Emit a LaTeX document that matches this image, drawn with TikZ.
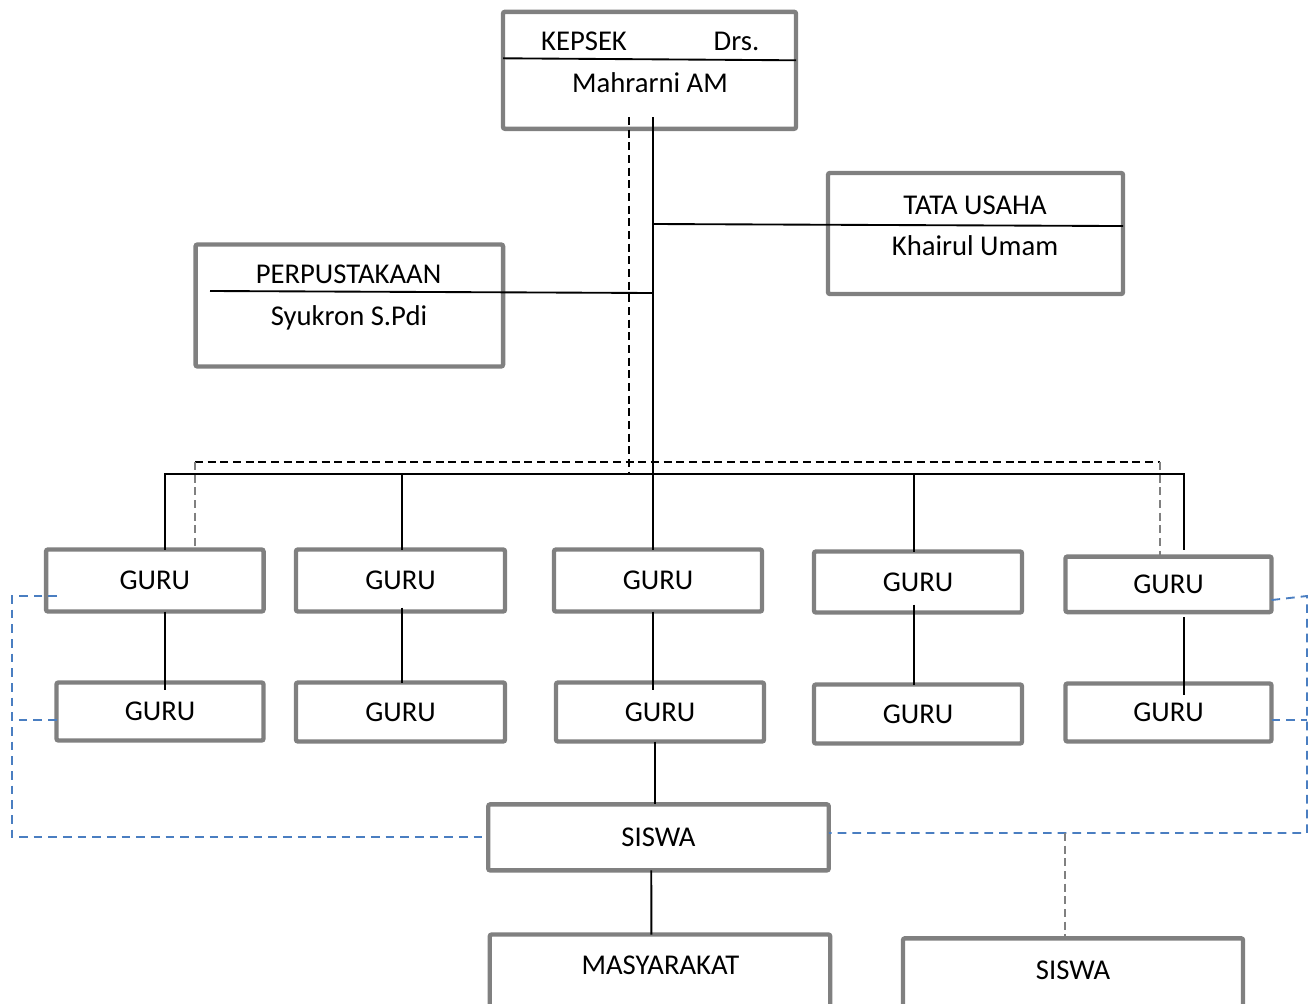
\documentclass[tikz,border=0pt]{standalone}
\usepackage{fontspec}
\setmainfont{Carlito}
\usetikzlibrary{positioning}

\definecolor{boxgrey}{RGB}{128,128,128}
\definecolor{linkblue}{RGB}{74,126,193}

\begin{document}
\begin{tikzpicture}[
            x=0.75pt, y=-0.75pt,
            boxsize/.style 2 args={minimum width=#1*0.75pt, minimum height=#2*0.75pt},
            orgbox/.style={rectangle, draw=boxgrey, line width=3.3pt, rounded corners=1.5pt, fill=white, inner sep=0pt, outer sep=0pt, font=\fontsize{21.5}{26}\selectfont, text height=13.85pt, text depth=0pt},
            orglabel/.style={inner sep=0pt, font=\fontsize{21.5}{26}\selectfont, text height=13.85pt, text depth=0pt},
            link/.style={draw=black, line width=1.4pt},
            dashlink/.style={draw=black, line width=1.4pt, dash pattern=on 6pt off 3.5pt},
            greylink/.style={draw=boxgrey, line width=1.4pt, dash pattern=on 6pt off 3.5pt},
            bluelink/.style={draw=linkblue, line width=1.4pt, dash pattern=on 6.5pt off 4.5pt},
            ]
            \useasboundingbox (0,0) rectangle (1313,1003);
            \clip (0,0) rectangle (1313,1003);

            % Nodes
            \node[orgbox, boxsize={293}{117}] (kepsek) at (649.5,70.3) {};
            \node[orgbox, boxsize={295}{121}] (tatausaha) at (975.5,233.5) {};
            \node[orgbox, boxsize={307.5}{122}] (perpus) at (349.3,305.5) {};

            \node[orgbox, boxsize={217.5}{62}] (guru1) at (154.8,580.5) {GURU};
            \node[orgbox, boxsize={209}{62}] (guru2) at (400.5,580.5) {GURU};
            \node[orgbox, boxsize={208}{62}] (guru3) at (658,580.5) {GURU};
            \node[orgbox, boxsize={208}{61}] (guru4) at (918,582) {GURU};
            \node[orgbox, boxsize={206}{55.5}] (guru5) at (1168.5,584.3) {GURU};

            \node[orgbox, boxsize={207}{58}] (guru1b) at (160,711.5) {GURU};
            \node[orgbox, boxsize={209}{59}] (guru2b) at (400.5,712) {GURU};
            \node[orgbox, boxsize={208}{59}] (guru3b) at (660,712) {GURU};
            \node[orgbox, boxsize={208}{59}] (guru4b) at (918,714) {GURU};
            \node[orgbox, boxsize={206}{58}] (guru5b) at (1168.5,712.5) {GURU};

            \node[orgbox, boxsize={340.5}{66}] (siswa) at (658.5,837.4) {SISWA};
            \node[orgbox, boxsize={340.5}{90}] (masyarakat) at (660,979.5) {};
            \node[orgbox, boxsize={340}{90}] (siswa2) at (1073,983.3) {};

            % Texts
            \node[orglabel] (kepsekT) at (584,41.7) {KEPSEK};
            \node[orglabel] (drsT) at (736.5,41.7) {Drs.};
            \node[orglabel] (kepsekN) at (650,83) {Mahrarni AM};
            \node[orglabel] (tuT) at (975,205) {TATA USAHA};
            \node[orglabel] (tuN) at (975,246) {Khairul Umam};
            \node[orglabel] (perpusT) at (348.5,274.7) {PERPUSTAKAAN};
            \node[orglabel] (perpusN) at (349,316.3) {Syukron S.Pdi};
            \node[orglabel] (masyT) at (660.5,965) {MASYARAKAT};
            \node[orglabel] (siswa2T) at (1073,970) {SISWA};

            % Joints
            \coordinate (trunk) at (653,117);
            \coordinate (dtrunk) at (629,117);
            \coordinate (tuJoin) at (653,224);
            \coordinate (ppStart) at (210,291);
            \coordinate (ppJoin) at (653,293);
            \coordinate (busL) at (165,474);
            \coordinate (busR) at (1184,474);
            \coordinate (drop2) at (402,474);
            \coordinate (drop4) at (914,474);
            \coordinate (dbusL) at (195,462);
            \coordinate (dbusR) at (1160,462);
            \coordinate (blueG1) at (57,596);
            \coordinate (blueL) at (12,596);
            \coordinate (blueR) at (1307,596);
            \coordinate (blueJoin) at (1065,833);

            % Lines
            \draw[link] ([yshift=9pt]kepsek.west) -- ([yshift=7.5pt]kepsek.east);
            \draw[link] (trunk) -- (trunk |- guru3.north);
            \draw[dashlink] (dtrunk) -- (dtrunk |- busL);
            \draw[link] (tuJoin) -- ([yshift=5.6pt]tatausaha.east);
            \draw[link] (ppStart) -- (ppJoin);

            \draw[link] (busL |- guru1.north) -- (busL) -- (busR) -- (busR |- guru1.north);
            \draw[link] (drop2) -- (drop2 |- guru2.north);
            \draw[link] (drop4) -- (drop4 |- guru4.north);

            \draw[link, shorten >=-5.6pt] (busL |- guru1.south) -- (busL |- guru1b.north);
            \draw[link, shorten <=-3pt] (drop2 |- guru2.south) -- (drop2 |- guru2b.north);
            \draw[link, shorten >=-5.6pt] (trunk |- guru3.south) -- (trunk |- guru3b.north);
            \draw[link, shorten <=-6pt] (drop4 |- guru4.south) -- (drop4 |- guru4b.north);
            \draw[link, shorten <=4pt, shorten >=-8.6pt] (busR |- guru5.south) -- (busR |- guru5b.north);

            \draw[link] ([xshift=-3.5pt]guru3b.south) -- ++(0,62);
            \draw[link] ([xshift=-5.4pt]siswa.south) -- ([xshift=-6.5pt]masyarakat.north);

            \draw[dashlink] (dbusL) -- (dbusR);
            \draw[greylink] (dbusL) -- (dbusL |- guru1.north);
            \draw[greylink, shorten >=-2.6pt] (dbusR) -- (dbusR |- guru5.north);

            \draw[bluelink] (blueG1) -- (blueL) -- (blueL |- siswa.west) -- (siswa.west);
            \draw[bluelink] ([yshift=-6.4pt]guru1b.west) -- ++(-44.5,0);
            \draw[bluelink] ([yshift=-11.8pt]guru5.east) -- (blueR) -- (blueR |- blueJoin) -- (blueJoin -| siswa.east);
            \draw[bluelink] ([yshift=-5.6pt]guru5b.east) -- ++(35,0);
            \draw[greylink] (blueJoin) -- (blueJoin |- siswa2.north);
\end{tikzpicture}
\end{document}
